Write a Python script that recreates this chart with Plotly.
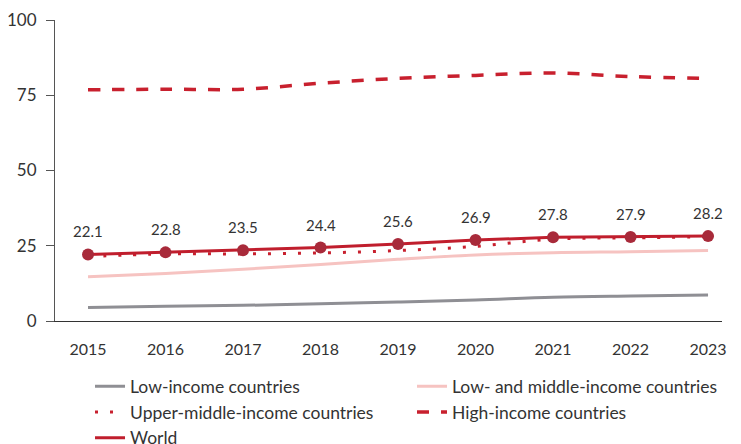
import plotly.graph_objects as go

years = [2015, 2016, 2017, 2018, 2019, 2020, 2021, 2022, 2023]
low_income = [4.5, 4.9, 5.2, 5.7, 6.3, 7.0, 7.9, 8.3, 8.6]
low_middle = [14.7, 15.8, 17.2, 18.8, 20.5, 21.9, 22.7, 23.0, 23.4]
upper_middle = [21.4, 22.3, 22.3, 22.6, 23.4, 24.8, 27.2, 27.6, 28.0]
high_income = [76.8, 77.0, 77.0, 79.0, 80.6, 81.6, 82.4, 81.2, 80.6]
world = [22.1, 22.8, 23.5, 24.4, 25.6, 26.9, 27.8, 27.9, 28.2]
world_labels = ["22.1", "22.8", "23.5", "24.4", "25.6", "26.9", "27.8", "27.9", "28.2"]
y_ticks = [0, 25, 50, 75, 100]

FONT = "Lato"
TXT = "#333333"

fig = go.Figure()
fig.add_trace(go.Scatter(x=years, y=low_income, name="Low-income countries", mode="lines",
                         line=dict(color="#8f8f94", width=3, shape="spline")))
fig.add_trace(go.Scatter(x=years, y=low_middle, name="Low- and middle-income countries", mode="lines",
                         line=dict(color="#f6c3c1", width=3, shape="spline")))
fig.add_trace(go.Scatter(x=years, y=upper_middle, name="Upper-middle-income countries", mode="lines",
                         line=dict(color="#c8202e", width=3, dash="3px,12px", shape="spline")))
fig.add_trace(go.Scatter(x=years, y=high_income, name="High-income countries", mode="lines",
                         line=dict(color="#c8202e", width=3.5, dash="12px,12px", shape="spline")))
fig.add_trace(go.Scatter(x=years, y=world, name="World", mode="lines",
                         line=dict(color="#c01e2d", width=3)))
fig.add_trace(go.Scatter(x=years, y=world, name="World", mode="markers", showlegend=False,
                         marker=dict(color="#a82a3a", size=12)))

for x, y, t in zip(years, world, world_labels):
    fig.add_annotation(x=x, y=y, text=t, showarrow=False, yshift=23,
                       font=dict(family=FONT, size=15, color=TXT))

fig.update_layout(
    width=733, height=436,
    margin=dict(l=47, r=19, t=12, b=123, autoexpand=False),
    paper_bgcolor="white", plot_bgcolor="white",
    font=dict(family=FONT, size=16, color=TXT),
    showlegend=True,
    legend=dict(orientation="h", x=0.0525, xanchor="left", y=-0.157, yanchor="top",
                entrywidth=277, entrywidthmode="pixels", tracegroupgap=0,
                font=dict(family=FONT, size=17.5, color=TXT), itemwidth=30,
                traceorder="normal"),
    xaxis=dict(range=[2014.574, 2023.18], tickmode="array", tickvals=years,
               ticktext=[str(y) for y in years], showgrid=False, zeroline=False,
               showline=True, linecolor="#333333", linewidth=1, ticks="",
               ticklabelstandoff=14,
               tickfont=dict(family=FONT, size=16, color=TXT)),
    yaxis=dict(range=[0, 100], tickmode="array", tickvals=y_ticks, showgrid=False,
               zeroline=False, showline=True, linecolor="#555555", linewidth=1.2,
               ticks="outside", ticklen=8, tickcolor="#555555", ticklabelstandoff=6,
               tickfont=dict(family=FONT, size=17, color=TXT)),
)

fig.write_html("out.html")
